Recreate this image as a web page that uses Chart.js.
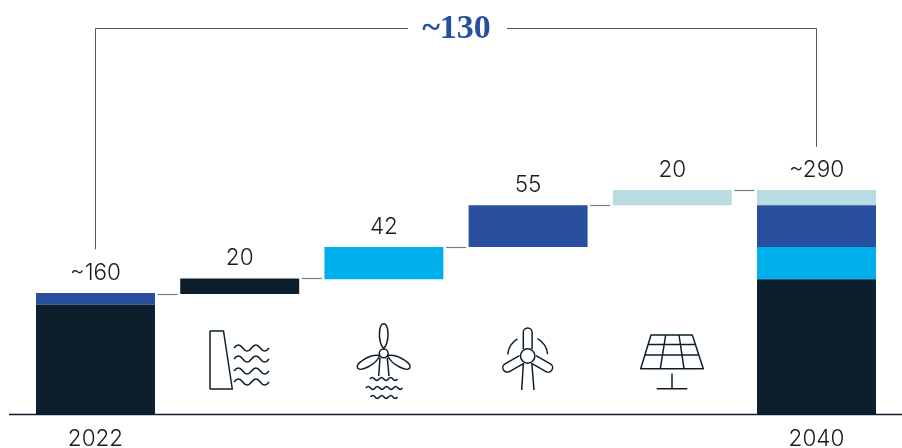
<!DOCTYPE html>
<html>
<head>
<meta charset="utf-8">
<style>
  html, body { margin: 0; padding: 0; background: #fff; }
  canvas { display: block; }
</style>
<script src="https://cdn.jsdelivr.net/npm/chart.js@4"></script>
</head>
<body>
<canvas id="chart" width="902" height="448"></canvas>
<script>
// data, floating bars are [from, to]
const categories = ['2022', '', '', '', '', '2040'];
const valueLabels = ['~160', '20', '42', '55', '20', '~290'];
const labelLevels = [157, 176, 217, 271, 291, 291];
const navyBars = [[0, 142], [156, 176], null, null, null, [0, 175]];
const cyanBars = [null, null, [175, 217], null, null, [175, 217]];
const blueBars = [[142, 157], null, null, [217, 271], null, [217, 271]];
const paleBars = [null, null, null, null, [271, 291], [271, 291]];
const connectorLevels = [156, 176, 217, 271, 291];
const bracketTop = 501;
const bracketLeftEnd = 214;
const bracketRightEnd = 347;
const bracketLabel = '~130';

const NAVY = '#0d1f2d';
const CYAN = '#00b0ec';
const BLUE = '#284e9e';
const PALE = '#b8dce2';
const GREY = '#6f7f8a';

function wave(ctx, x1, x2, y, periods, amp) {
    const step = (x2 - x1) / (periods * 2);
    ctx.moveTo(x1, y);
    for (let i = 0; i < periods * 2; i++) {
        const dir = i % 2 === 0 ? -1 : 1;
        ctx.quadraticCurveTo(x1 + step * (i + 0.5), y + dir * amp * 2, x1 + step * (i + 1), y);
    }
}

function blade(ctx, cx, cy, angle, len, w, start) {
    ctx.save();
    ctx.translate(cx, cy);
    ctx.rotate(angle);
    ctx.moveTo(-w, -start);
    ctx.lineTo(-w, -len + w);
    ctx.arc(0, -len + w, w, Math.PI, 0);
    ctx.lineTo(w, -start);
    ctx.restore();
}

function leaf(ctx, cx, cy, angle, len, w, start) {
    ctx.save();
    ctx.translate(cx, cy);
    ctx.rotate(angle);
    ctx.moveTo(0, -start);
    ctx.bezierCurveTo(-w * 1.6, -start - len * 0.3, -w * 1.1, -len, 0, -len);
    ctx.bezierCurveTo(w * 1.1, -len, w * 1.6, -start - len * 0.3, 0, -start);
    ctx.restore();
}

function drawIcons(ctx) {
    ctx.save();
    ctx.strokeStyle = NAVY;
    ctx.lineWidth = 1.5;
    ctx.lineJoin = 'round';

    // dam
    ctx.beginPath();
    ctx.moveTo(210, 331);
    ctx.lineTo(223.5, 331);
    ctx.lineTo(232.3, 389);
    ctx.lineTo(210, 389);
    ctx.closePath();
    [348, 359, 371, 382].forEach(y => wave(ctx, 234, 269, y, 2, 3));
    ctx.stroke();

    // offshore turbine
    ctx.beginPath();
    ctx.arc(383.7, 353.3, 4.4, 0, Math.PI * 2);
    leaf(ctx, 383.7, 353.3, 0, 29.5, 4.2, 4.4);
    leaf(ctx, 383.7, 353.3, -2.08, 30, 4.2, 4.4);
    leaf(ctx, 383.7, 353.3, 2.08, 30, 4.2, 4.4);
    ctx.moveTo(380, 358);
    ctx.lineTo(378.7, 376);
    ctx.moveTo(387.3, 358);
    ctx.lineTo(389, 376);
    wave(ctx, 370, 397.5, 379, 3, 1.4);
    wave(ctx, 366, 402.5, 388, 4, 1.4);
    wave(ctx, 370.5, 397.5, 397, 3, 1.4);
    ctx.stroke();

    // onshore turbine
    ctx.beginPath();
    ctx.arc(527.7, 356, 7.2, 0, Math.PI * 2);
    ctx.stroke();
    ctx.beginPath();
    blade(ctx, 527.7, 356, 0, 28, 4.4, 7);
    blade(ctx, 527.7, 356, -2.09, 28, 4.4, 7);
    blade(ctx, 527.7, 356, 2.09, 28, 4.4, 7);
    ctx.moveTo(523.4, 363);
    ctx.lineTo(521.7, 390);
    ctx.moveTo(531.8, 363);
    ctx.lineTo(534, 390);
    ctx.moveTo(507.7, 354.4);
    ctx.arc(527.7, 356, 20, Math.PI * 1.03, Math.PI * 1.33);
    ctx.moveTo(537.6, 339);
    ctx.arc(527.7, 356, 20, Math.PI * 1.67, Math.PI * 1.97);
    ctx.stroke();

    // solar panel
    ctx.beginPath();
    ctx.moveTo(651, 335);
    ctx.lineTo(692.3, 335);
    ctx.lineTo(703.3, 368.7);
    ctx.lineTo(640.7, 368.7);
    ctx.closePath();
    ctx.moveTo(647.7, 344.5);
    ctx.lineTo(695.5, 344.5);
    ctx.moveTo(644.5, 355);
    ctx.lineTo(699, 355);
    ctx.moveTo(665.7, 335);
    ctx.lineTo(660.3, 368.7);
    ctx.moveTo(679, 335);
    ctx.lineTo(684, 368.7);
    ctx.moveTo(672, 373.5);
    ctx.lineTo(672, 388.7);
    ctx.moveTo(656.7, 388.7);
    ctx.lineTo(687.3, 388.7);
    ctx.stroke();
    ctx.restore();
}

const annotations = {
    id: 'annotations',
    afterDatasetsDraw(chart) {
        const { ctx, scales: { x, y } } = chart;

        // baseline
        ctx.save();
        ctx.strokeStyle = NAVY;
        ctx.lineWidth = 1.5;
        ctx.beginPath();
        ctx.moveTo(9, y.getPixelForValue(0) + 0.5);
        ctx.lineTo(902, y.getPixelForValue(0) + 0.5);
        ctx.stroke();

        // connectors between the bars
        ctx.strokeStyle = GREY;
        ctx.lineWidth = 1.2;
        connectorLevels.forEach((level, i) => {
            const px = Math.round(y.getPixelForValue(level)) + 0.5;
            const mid = (x.getPixelForValue(i) + x.getPixelForValue(i + 1)) / 2;
            ctx.beginPath();
            ctx.moveTo(mid - 10, px);
            ctx.lineTo(mid + 10, px);
            ctx.stroke();
        });

        // value labels
        ctx.fillStyle = '#1c1c1c';
        ctx.font = '300 22.5px Inter, "Liberation Sans", sans-serif';
        ctx.textAlign = 'center';
        ctx.textBaseline = 'middle';
        valueLabels.forEach((text, i) => {
            ctx.fillText(text, x.getPixelForValue(i), y.getPixelForValue(labelLevels[i]) - 20);
        });

        // bracket
        const left = x.getPixelForValue(0);
        const right = x.getPixelForValue(5);
        const top = Math.round(y.getPixelForValue(bracketTop)) + 0.5;
        ctx.strokeStyle = '#4a5a66';
        ctx.lineWidth = 1;
        ctx.beginPath();
        ctx.moveTo(left, y.getPixelForValue(bracketLeftEnd));
        ctx.lineTo(left, top);
        ctx.lineTo(408, top);
        ctx.moveTo(507, top);
        ctx.lineTo(right, top);
        ctx.lineTo(right, y.getPixelForValue(bracketRightEnd));
        ctx.stroke();

        ctx.fillStyle = BLUE;
        ctx.font = 'bold 34px "Liberation Serif", serif';
        ctx.fillText(bracketLabel, 456.5, top + 1);
        ctx.restore();

        drawIcons(ctx);
    }
};

function bars(label, data, color) {
    return { label, data, backgroundColor: color, borderWidth: 0 };
}

new Chart(document.getElementById('chart'), {
    type: 'bar',
    data: {
        labels: categories,
        datasets: [
            bars('Hydro', navyBars, NAVY),
            bars('Offshore wind', cyanBars, CYAN),
            bars('Onshore wind', blueBars, BLUE),
            bars('Solar', paleBars, PALE)
        ]
    },
    options: {
        responsive: false,
        animation: false,
        events: [],
        layout: { padding: { left: 23.4, right: 13.4, top: 14, bottom: 0 } },
        datasets: { bar: { grouped: false, barPercentage: 0.825, categoryPercentage: 1 } },
        plugins: { legend: { display: false }, tooltip: { enabled: false } },
        scales: {
            x: {
                grid: { display: false },
                border: { display: false },
                afterFit(scale) { scale.height = 34; },
                ticks: {
                    color: '#1c1c1c',
                    padding: 4,
                    maxRotation: 0,
                    autoSkip: false,
                    font: { family: 'Inter, "Liberation Sans", sans-serif', size: 22.5, weight: '300' }
                }
            },
            y: { display: false, min: 0, max: 519.5 }
        }
    },
    plugins: [annotations]
});
</script>
</body>
</html>
